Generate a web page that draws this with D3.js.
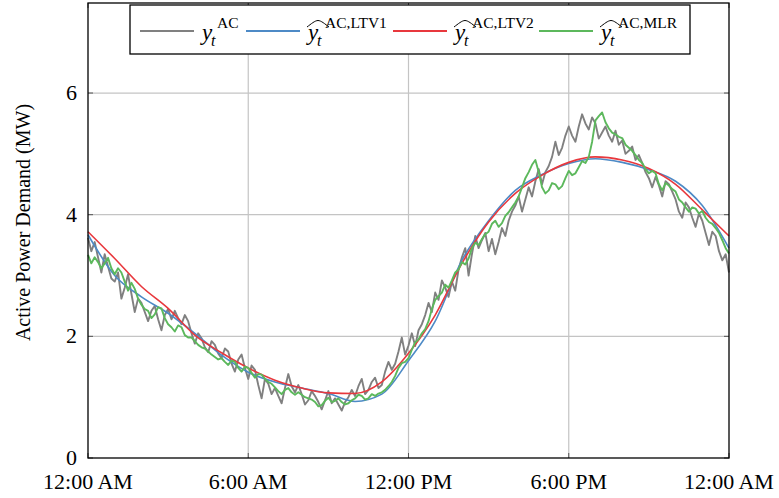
<!DOCTYPE html>
<html>
<head>
<meta charset="utf-8">
<script src="https://cdn.jsdelivr.net/npm/d3@7"></script>
<style>
  html, body { margin: 0; padding: 0; background: #fff; }
  svg { display: block; font-family: "Liberation Serif", "DejaVu Serif", serif; }
</style>
</head>
<body>
<div id="chart"></div>
<script>
// x ticks (hours) and labels
const tickHours = [0, 6, 12, 18, 24];
const tickLabels = ["12:00 AM", "6:00 AM", "12:00 PM", "6:00 PM", "12:00 AM"];
const yTicks = [0, 2, 4, 6];

// measured demand, every 7.5 minutes (MW), one row per hour
const actual = [
  3.62, 3.40, 3.55, 3.30, 3.05, 3.35, 3.15, 2.95,
  2.90, 3.05, 2.62, 2.80, 3.02, 2.70, 2.40, 2.62,
  2.55, 2.40, 2.25, 2.42, 2.50, 2.28, 2.10, 2.35,
  2.45, 2.28, 2.42, 2.30, 2.20, 2.35, 2.25, 2.05,
  1.88, 2.05, 1.97, 1.82, 1.74, 1.92, 1.86, 1.72,
  1.64, 1.80, 1.75, 1.55, 1.42, 1.62, 1.70, 1.48,
  1.30, 1.52, 1.45, 1.20, 0.98, 1.30, 1.22, 1.05,
  1.15, 1.02, 0.90, 1.15, 1.38, 1.18, 1.08, 1.20,
  1.05, 0.88, 0.95, 1.10, 1.02, 0.92, 0.80, 0.95,
  1.10, 0.90, 0.98, 0.88, 0.78, 0.92, 1.00, 1.12,
  1.02, 1.18, 1.30, 1.05, 1.12, 1.25, 1.32, 1.15,
  1.20, 1.42, 1.58, 1.45, 1.55, 1.75, 1.98, 1.70,
  1.85, 2.05, 1.84, 2.10, 2.20, 2.35, 2.55, 2.40,
  2.72, 2.60, 2.92, 2.80, 2.65, 2.90, 2.75, 3.10,
  3.30, 3.45, 3.00, 3.35, 3.65, 3.45, 3.58, 3.70,
  3.40, 3.60, 3.35, 3.55, 3.78, 3.65, 3.90, 4.05,
  4.15, 4.30, 4.05, 4.25, 4.45, 4.30, 4.55, 4.75,
  4.50, 4.70, 4.80, 4.95, 5.20, 4.98, 5.10, 5.30,
  5.45, 5.30, 5.20, 5.45, 5.65, 5.50, 5.40, 5.60,
  5.50, 5.25, 5.35, 5.45, 5.30, 5.20, 5.38, 5.15,
  5.22, 5.00, 5.05, 5.12, 4.90, 4.98, 4.85, 4.70,
  4.60, 4.45, 4.62, 4.48, 4.30, 4.55, 4.50, 4.38,
  4.25, 4.05, 3.95, 4.20, 4.12, 3.95, 3.80, 4.02,
  3.90, 3.70, 3.50, 3.72, 3.65, 3.40, 3.25, 3.35,
  3.05
];

// MLR estimate, every 7.5 minutes
const mlr = [
  3.34, 3.20, 3.30, 3.22, 3.12, 3.20, 3.29, 3.12,
  3.02, 3.12, 3.05, 2.90, 2.75, 2.88, 2.78, 2.62,
  2.52, 2.45, 2.42, 2.30, 2.36, 2.48, 2.46, 2.30,
  2.20, 2.15, 2.08, 2.18, 2.15, 2.02, 1.98, 1.98,
  1.92, 1.86, 1.82, 1.80, 1.75, 1.70, 1.66, 1.62,
  1.64, 1.58, 1.53, 1.60, 1.58, 1.48, 1.42, 1.50,
  1.48, 1.40, 1.32, 1.38, 1.37, 1.30, 1.25, 1.22,
  1.16, 1.10, 1.05, 1.12, 1.15, 1.08, 1.04, 1.08,
  1.04, 1.00, 0.98, 0.96, 0.92, 0.85, 0.87, 0.94,
  0.99, 0.92, 0.94, 0.98, 0.92, 0.88, 0.90, 0.95,
  0.98, 1.04, 1.02, 0.96, 0.98, 1.05, 1.02, 1.06,
  1.08, 1.12, 1.18, 1.25, 1.35, 1.48, 1.56, 1.58,
  1.64, 1.78, 1.90, 1.95, 2.05, 2.12, 2.25, 2.45,
  2.60, 2.66, 2.72, 2.85, 2.80, 2.92, 3.05, 3.10,
  3.22, 3.18, 3.28, 3.45, 3.54, 3.50, 3.60, 3.68,
  3.72, 3.85, 3.90, 3.80, 3.86, 3.98, 4.04, 4.12,
  4.20, 4.30, 4.45, 4.60, 4.70, 4.82, 4.90, 4.70,
  4.45, 4.35, 4.40, 4.52, 4.50, 4.42, 4.47, 4.60,
  4.72, 4.65, 4.68, 4.78, 4.88, 4.85, 4.95, 5.20,
  5.55, 5.62, 5.68, 5.52, 5.42, 5.35, 5.32, 5.28,
  5.26, 5.15, 5.10, 5.05, 4.98, 4.90, 4.85, 4.75,
  4.68, 4.72, 4.68, 4.50, 4.40, 4.52, 4.48, 4.42,
  4.38, 4.25, 4.20, 4.12, 4.05, 4.12, 4.10, 4.02,
  4.06, 3.95, 3.88, 3.85, 3.78, 3.70, 3.58, 3.45,
  3.36
];

// smooth LTV estimates, hourly
const ltv1 = [3.67, 3.00, 2.65, 2.38, 2.05, 1.69, 1.41, 1.25, 1.15, 1.06, 0.93, 1.05,
  1.60, 2.25, 3.25, 3.90, 4.40, 4.66, 4.84, 4.92, 4.86, 4.74, 4.55, 4.15, 3.45];
const ltv2 = [3.72, 3.28, 2.82, 2.46, 2.02, 1.73, 1.48, 1.28, 1.15, 1.07, 1.06, 1.25,
  1.72, 2.35, 3.20, 3.88, 4.35, 4.65, 4.86, 4.95, 4.90, 4.76, 4.50, 4.08, 3.65];

const fineHours = d3.range(actual.length).map(i => i * 24 / (actual.length - 1));
const wholeHours = d3.range(ltv1.length);

const width = 779, height = 498;
const margin = { left: 88, right: 50, top: 3, bottom: 40 };

const svg = d3.select("#chart").append("svg")
  .attr("width", width)
  .attr("height", height);

const x = d3.scaleLinear().domain([0, 24]).range([margin.left, width - margin.right]);
const y = d3.scaleLinear().domain([0, 7.48]).range([height - margin.bottom, margin.top]);

// grid
svg.append("g")
  .selectAll("line")
  .data(tickHours.slice(1, -1))
  .join("line")
  .attr("x1", d => x(d)).attr("x2", d => x(d))
  .attr("y1", y.range()[0]).attr("y2", y.range()[1])
  .attr("stroke", "#c4c4c4").attr("stroke-width", 1.2);

svg.append("g")
  .selectAll("line")
  .data(yTicks.slice(1))
  .join("line")
  .attr("x1", x.range()[0]).attr("x2", x.range()[1])
  .attr("y1", d => y(d)).attr("y2", d => y(d))
  .attr("stroke", "#c4c4c4").attr("stroke-width", 1.2);

// inner tick marks
const tk = svg.append("g").attr("stroke", "#555").attr("stroke-width", 1);
yTicks.forEach(v => {
  tk.append("line").attr("x1", x(0)).attr("x2", x(0) + 5).attr("y1", y(v)).attr("y2", y(v));
  tk.append("line").attr("x1", x(24)).attr("x2", x(24) - 5).attr("y1", y(v)).attr("y2", y(v));
});
tickHours.forEach(h => {
  tk.append("line").attr("x1", x(h)).attr("x2", x(h)).attr("y1", y(0)).attr("y2", y(0) - 5);
  tk.append("line").attr("x1", x(h)).attr("x2", x(h)).attr("y1", y.range()[1]).attr("y2", y.range()[1] + 5);
});

// series
const line = (xs, curve) => d3.line()
  .x((d, i) => x(xs[i]))
  .y(d => y(d))
  .curve(curve);

const plot = svg.append("g");
plot.append("path").datum(actual)
  .attr("d", line(fineHours, d3.curveLinear))
  .attr("fill", "none").attr("stroke", "#808080").attr("stroke-width", 1.9)
  .attr("stroke-linejoin", "round");
plot.append("path").datum(ltv1)
  .attr("d", line(wholeHours, d3.curveMonotoneX))
  .attr("fill", "none").attr("stroke", "#4d8ac6").attr("stroke-width", 1.6);
plot.append("path").datum(ltv2)
  .attr("d", line(wholeHours, d3.curveMonotoneX))
  .attr("fill", "none").attr("stroke", "#e8383d").attr("stroke-width", 1.6);
plot.append("path").datum(mlr)
  .attr("d", line(fineHours, d3.curveLinear))
  .attr("fill", "none").attr("stroke", "#5cb85c").attr("stroke-width", 1.9)
  .attr("stroke-linejoin", "round");

// frame
svg.append("rect")
  .attr("x", x(0)).attr("y", y.range()[1])
  .attr("width", x(24) - x(0)).attr("height", y(0) - y.range()[1])
  .attr("fill", "none").attr("stroke", "#000").attr("stroke-width", 1.3);

// tick labels
svg.append("g")
  .selectAll("text")
  .data(tickHours)
  .join("text")
  .attr("x", d => x(d))
  .attr("y", y(0) + 31)
  .attr("text-anchor", "middle")
  .attr("font-size", 22)
  .text((d, i) => tickLabels[i]);

svg.append("g")
  .selectAll("text")
  .data(yTicks)
  .join("text")
  .attr("x", x(0) - 11)
  .attr("y", d => y(d) + 7)
  .attr("text-anchor", "end")
  .attr("font-size", 22)
  .text(d => d);

svg.append("text")
  .attr("transform", `translate(30,${(y(0) + y.range()[1]) / 2 - 8}) rotate(-90)`)
  .attr("text-anchor", "middle")
  .attr("font-size", 20)
  .text("Active Power Demand (MW)");

// legend
const legend = svg.append("g");
legend.append("rect")
  .attr("x", 130).attr("y", 5).attr("width", 560).attr("height", 49)
  .attr("fill", "#fff").attr("stroke", "#000").attr("stroke-width", 1.3);

const entries = [
  { color: "#808080", hat: false, sup: "AC", x0: 140 },
  { color: "#4d8ac6", hat: true, sup: "AC,LTV1", x0: 246 },
  { color: "#e8383d", hat: true, sup: "AC,LTV2", x0: 393 },
  { color: "#5cb85c", hat: true, sup: "AC,MLR", x0: 539 }
];

entries.forEach(e => {
  legend.append("line")
    .attr("x1", e.x0).attr("x2", e.x0 + 54)
    .attr("y1", 31).attr("y2", 31)
    .attr("stroke", e.color).attr("stroke-width", 2);
  const gx = e.x0 + 62;
  legend.append("text")
    .attr("x", gx).attr("y", 40)
    .attr("font-size", 23).attr("font-style", "italic")
    .text("y");
  legend.append("text")
    .attr("x", gx + 9).attr("y", 46)
    .attr("font-size", 16).attr("font-style", "italic")
    .text("t");
  if (e.hat) {
    legend.append("path")
      .attr("d", `M${gx - 1},27 C${gx + 3},24 ${gx + 7},20.5 ${gx + 10},20.5 C${gx + 13},20.5 ${gx + 17},24 ${gx + 21},27`)
      .attr("fill", "none").attr("stroke", "#000").attr("stroke-width", 1);
  }
  legend.append("text")
    .attr("x", gx + (e.hat ? 17 : 15)).attr("y", 28)
    .attr("font-size", 15.5)
    .text(e.sup);
});
</script>
</body>
</html>
